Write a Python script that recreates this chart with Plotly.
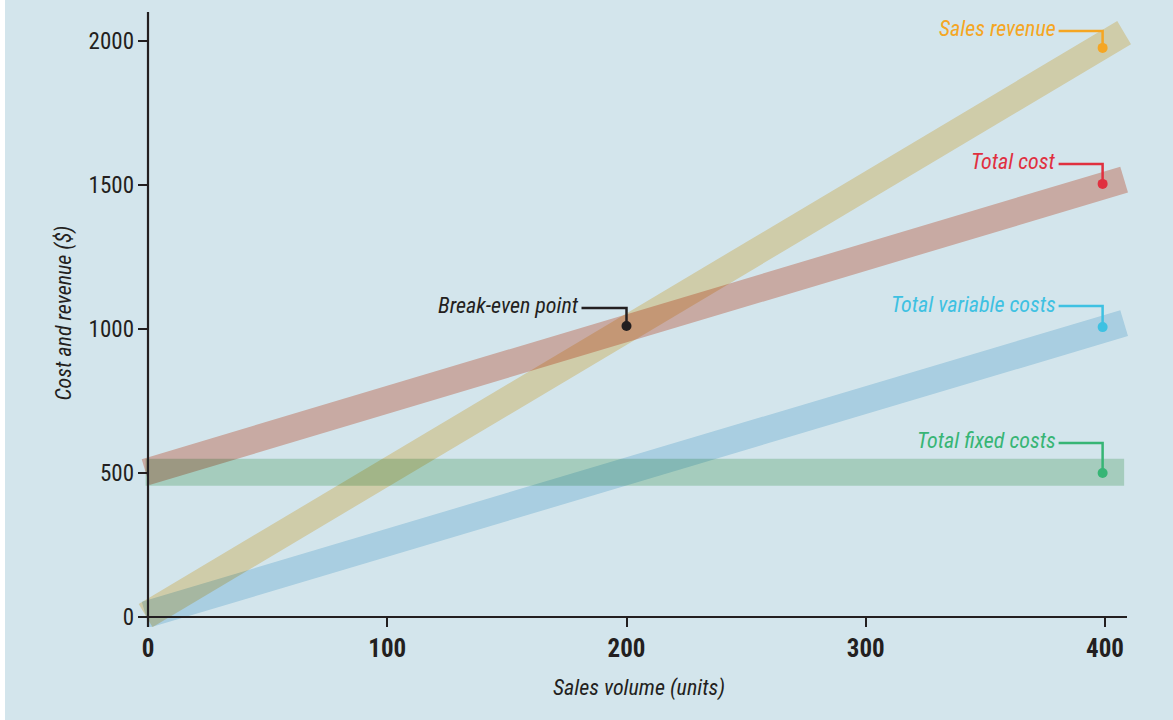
import plotly.graph_objects as go

# Sales volume (units) at the two ends of each band
volume_ends = [-1, 408]

# Cost and revenue ($) at those ends
sales_revenue = [5, 2028]
total_cost = [503, 1518]
total_variable_costs = [8, 1020]
total_fixed_costs = [502, 502]

# Labelled points
series_names = ["Sales revenue", "Total cost", "Total variable costs", "Total fixed costs"]
label_volume = [399, 399, 399, 399]
label_value = [1975, 1503, 1006, 500]
label_colors = ["#f5a623", "#e0303f", "#3ec1e2", "#37b575"]
leader_rise = [17, 20, 21, 30]  # px

break_even_volume = 200
break_even_value = 1010

x_ticks = [0, 100, 200, 300, 400]
y_ticks = [0, 500, 1000, 1500, 2000]

BG = "#d3e5ec"
INK = "#231f20"
FONT = "Roboto Condensed, Liberation Sans Narrow, sans-serif"

# band colours (blended by multiply, see post_script)
band_colors = {
    "Total variable costs": "#cce6f3",
    "Total fixed costs": "#c7e4cd",
    "Total cost": "#f2beb0",
    "Sales revenue": "#fae3b7",
}
band_values = {
    "Total variable costs": total_variable_costs,
    "Total fixed costs": total_fixed_costs,
    "Total cost": total_cost,
    "Sales revenue": sales_revenue,
}

# axis windows: 10 px of room left of / below the zero lines for the inside ticks
X_RANGE = [-10 / 2.3925, (1131 - 148) / 2.3925]
Y_RANGE = [-10 / 0.28815, 605 / 0.28815]

fig = go.Figure()

# plot-area backdrop inside the trace layer, so the bands can multiply onto it
fig.add_trace(go.Scatter(
    x=[X_RANGE[0], X_RANGE[1], X_RANGE[1], X_RANGE[0]],
    y=[Y_RANGE[0], Y_RANGE[0], Y_RANGE[1], Y_RANGE[1]],
    fill="toself", fillcolor=BG, mode="lines", line=dict(width=0),
    hoverinfo="skip", showlegend=False,
))

for name, vals in band_values.items():
    fig.add_trace(go.Scatter(
        x=volume_ends, y=vals, mode="lines", name=name,
        line=dict(color=band_colors[name], width=27),
        hoverinfo="skip", showlegend=False,
    ))

# dots at the end of each leader
fig.add_trace(go.Scatter(
    x=label_volume + [break_even_volume],
    y=label_value + [break_even_value],
    mode="markers",
    marker=dict(color=label_colors + [INK], size=10, line=dict(width=0)),
    hoverinfo="skip", showlegend=False,
))

shapes = []
annotations = []
for name, xv, yv, col, rise in zip(series_names, label_volume, label_value, label_colors, leader_rise):
    shapes.append(dict(
        type="path", xref="x", yref="y", xsizemode="pixel", ysizemode="pixel",
        xanchor=xv, yanchor=yv, path=f"M -44,{rise} L 0,{rise} L 0,0",
        line=dict(color=col, width=2.5), layer="above",
    ))
    annotations.append(dict(
        x=xv, y=yv, xref="x", yref="y", text=f"<i>{name}</i>", showarrow=False,
        xanchor="right", yanchor="middle", xshift=-45, yshift=rise + 2,
        font=dict(family=FONT, size=22, color=col),
    ))

shapes.append(dict(
    type="path", xref="x", yref="y", xsizemode="pixel", ysizemode="pixel",
    xanchor=break_even_volume, yanchor=break_even_value, path="M -45,18 L 0,18 L 0,0",
    line=dict(color=INK, width=2.5), layer="above",
))
annotations.append(dict(
    x=break_even_volume, y=break_even_value, xref="x", yref="y",
    text="<i>Break-even point</i>", showarrow=False,
    xanchor="right", yanchor="middle", xshift=-46, yshift=20,
    font=dict(family=FONT, size=22, color=INK),
))

# axis lines
shapes.append(dict(type="line", xref="x", yref="paper", x0=0, x1=0, y0=0, y1=1,
                   line=dict(color=INK, width=2.2), layer="above"))
shapes.append(dict(type="line", xref="paper", yref="y", x0=0, x1=(1127 - 138) / 993, y0=0, y1=0,
                   line=dict(color=INK, width=2.2), layer="above"))
# thin white strip on the left edge of the page
shapes.append(dict(type="rect", xref="paper", yref="paper",
                   x0=-138 / 993 - 0.01, x1=-133 / 993, y0=-0.2, y1=1.1,
                   fillcolor="white", line=dict(width=0), layer="below"))

# axis titles
annotations.append(dict(
    x=0.5, y=0, xref="paper", yref="paper", text="<i>Sales volume (units)</i>",
    showarrow=False, xanchor="center", yanchor="middle", xshift=4, yshift=-61,
    font=dict(family=FONT, size=22, color=INK),
))
annotations.append(dict(
    x=0, y=0.5, xref="paper", yref="paper", text="<i>Cost and revenue ($)</i>",
    showarrow=False, xanchor="center", yanchor="middle", xshift=-75, yshift=6,
    textangle=-90, font=dict(family=FONT, size=22, color=INK),
))

fig.update_layout(
    width=1173, height=720,
    margin=dict(l=138, r=42, t=12, b=93),
    paper_bgcolor=BG, plot_bgcolor=BG,
    shapes=shapes, annotations=annotations,
    xaxis=dict(
        range=X_RANGE,
        tickvals=x_ticks, ticktext=[f"<b>{t}</b>" for t in x_ticks],
        ticks="inside", ticklen=10, tickwidth=2.2, tickcolor=INK,
        showgrid=False, zeroline=False, showline=False,
        tickfont=dict(family=FONT, size=25, color=INK),
        ticklabelstandoff=4,
    ),
    yaxis=dict(
        range=Y_RANGE,
        tickvals=y_ticks,
        ticks="inside", ticklen=10, tickwidth=2.2, tickcolor=INK,
        showgrid=False, zeroline=False, showline=False,
        tickfont=dict(family=FONT, size=23, color=INK),
        ticklabelstandoff=3,
    ),
)

# bands 1..4 in the scatter layer blend by multiply with the backdrop and each other
post = """
var gd = document.getElementById('{plot_id}');
gd.querySelectorAll('.scatterlayer .trace').forEach(function(t, i){
  if (i >= 1 && i <= 4) { t.querySelectorAll('path.js-line').forEach(function(p){ p.style.mixBlendMode = 'multiply'; }); }
});
"""

fig.write_html("out.html", post_script=post)
